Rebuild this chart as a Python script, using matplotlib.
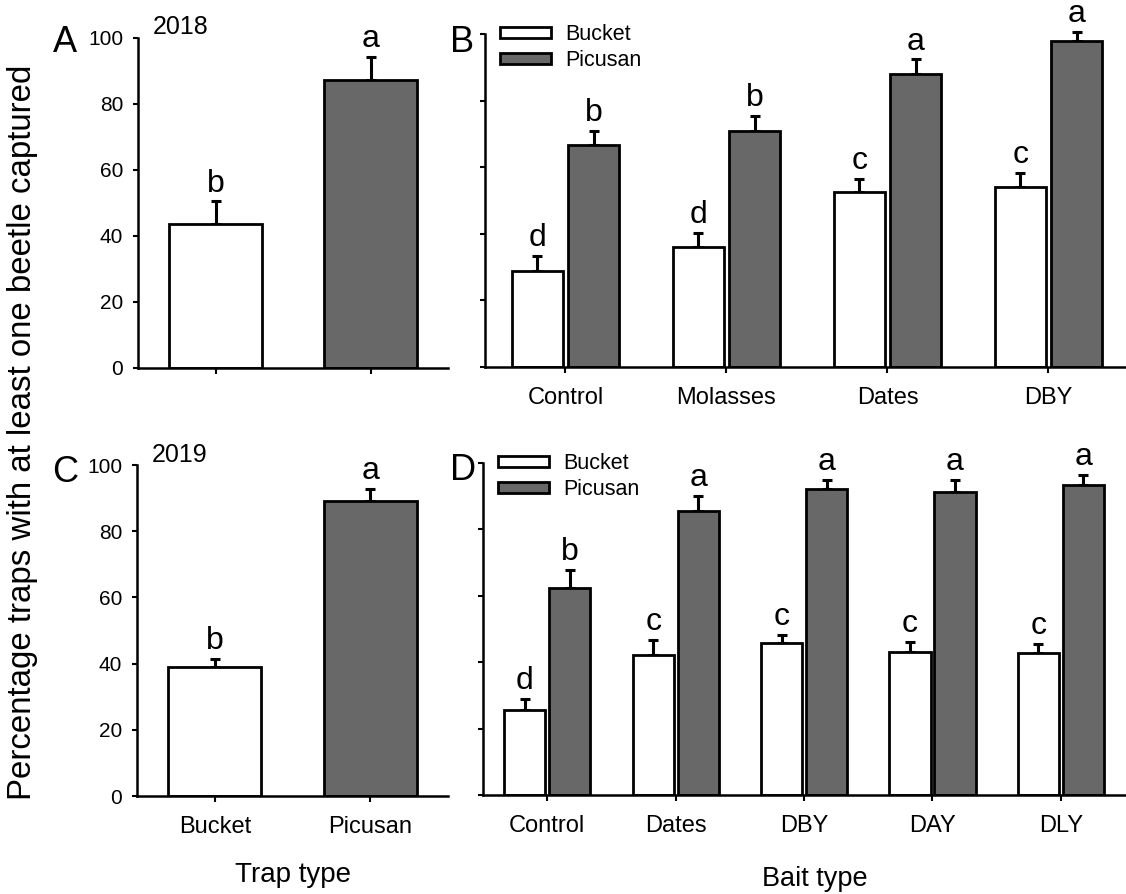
import matplotlib
matplotlib.use("Agg")
import matplotlib.pyplot as plt
import numpy as np

plt.rcParams['font.family'] = ['Liberation Sans', 'DejaVu Sans']

# trap type, 2018 and 2019
traps = ["Bucket", "Picusan"]
trap_2018 = [43.5, 87.2]
trap_2018_err = [7.0, 7.0]
trap_2018_letters = ["b", "a"]
trap_2019 = [39.0, 89.1]
trap_2019_err = [2.4, 3.6]
trap_2019_letters = ["b", "a"]

# bait type by trap, 2018
baits_2018 = ["Control", "Molasses", "Dates", "DBY"]
bucket_2018 = [28.8, 36.0, 52.4, 53.9]
bucket_2018_err = [4.5, 4.3, 4.2, 4.5]
bucket_2018_letters = ["d", "d", "c", "c"]
picusan_2018 = [66.7, 70.9, 87.9, 97.9]
picusan_2018_err = [4.2, 4.5, 4.5, 2.7]
picusan_2018_letters = ["b", "b", "a", "a"]

# bait type by trap, 2019
baits_2019 = ["Control", "Dates", "DBY", "DAY", "DLY"]
bucket_2019 = [25.6, 42.2, 45.8, 43.1, 42.8]
bucket_2019_err = [3.3, 4.5, 2.4, 3.0, 2.7]
bucket_2019_letters = ["d", "c", "c", "c", "c"]
picusan_2019 = [62.3, 85.5, 92.2, 91.3, 93.4]
picusan_2019_err = [5.5, 4.6, 2.7, 3.6, 3.0]
picusan_2019_letters = ["b", "a", "a", "a", "a"]

GREY = "#686868"
LW = 2.0


def style_axis(ax):
    ax.spines['top'].set_visible(False)
    ax.spines['right'].set_visible(False)
    ax.spines['left'].set_linewidth(1.8)
    ax.spines['bottom'].set_linewidth(1.8)
    ax.set_ylim(0, 100)
    ax.set_yticks([0, 20, 40, 60, 80, 100])
    ax.tick_params(axis='y', direction='out', length=3.8, width=1.5, pad=7, labelsize=15)
    ax.tick_params(axis='x', direction='out', length=4.5, width=1.5, pad=10, labelsize=17)


def draw_bars(ax, x, vals, errs, letters, color, width):
    bars = ax.bar(x, vals, width, color=color, edgecolor='black', linewidth=LW, zorder=2)
    ax.errorbar(x, vals, yerr=[np.zeros(len(vals)), errs], fmt='none', ecolor='black',
                elinewidth=2.2, capsize=3.6, capthick=2.2, zorder=1, clip_on=False)
    for xi, v, e, t in zip(x, vals, errs, letters):
        ax.annotate(t, (xi, v + e), xytext=(0, 7), textcoords='offset points',
                    ha='center', va='baseline', fontsize=23, annotation_clip=False)
    return bars


def trap_panel(ax, vals, errs, letters):
    x = np.arange(len(traps))
    draw_bars(ax, x, vals, errs, letters, ['white', GREY], 0.6)
    ax.set_xlim(-0.5, 1.5)
    ax.set_xticks(x)
    ax.set_xticklabels(traps)
    style_axis(ax)


def bait_panel(ax, baits, buck, buck_err, buck_let, pic, pic_err, pic_let):
    x = np.arange(len(baits))
    b1 = draw_bars(ax, x - 0.175, buck, buck_err, buck_let, 'white', 0.32)
    b2 = draw_bars(ax, x + 0.175, pic, pic_err, pic_let, GREY, 0.32)
    ax.set_xlim(-0.5, len(baits) - 0.5)
    ax.set_xticks(x)
    ax.set_xticklabels(baits)
    style_axis(ax)
    ax.set_yticklabels([])
    ax.legend([b1, b2], ["Bucket", "Picusan"], loc='upper left', bbox_to_anchor=(0.023, 1.03),
              frameon=False, fontsize=15.5, handlelength=2.4, handleheight=0.38,
              handletextpad=0.65, labelspacing=0.25, borderpad=0, borderaxespad=0)


fig = plt.figure(figsize=(11.26, 8.94), dpi=100)

axA = fig.add_axes([0.1226, 0.5884, 0.2753, 0.3691])
trap_panel(axA, trap_2018, trap_2018_err, trap_2018_letters)
axA.set_xticklabels([])

axB = fig.add_axes([0.4307, 0.5895, 0.5719, 0.3725])
bait_panel(axB, baits_2018, bucket_2018, bucket_2018_err, bucket_2018_letters,
           picusan_2018, picusan_2018_err, picusan_2018_letters)

axC = fig.add_axes([0.1217, 0.1096, 0.2762, 0.3702])
trap_panel(axC, trap_2019, trap_2019_err, trap_2019_letters)

axD = fig.add_axes([0.4290, 0.1107, 0.5702, 0.3714])
bait_panel(axD, baits_2019, bucket_2019, bucket_2019_err, bucket_2019_letters,
           picusan_2019, picusan_2019_err, picusan_2019_letters)

# panel letters and years
fig.text(0.047, 0.9418, "A", fontsize=26, ha='left', va='baseline')
fig.text(0.3996, 0.9418, "B", fontsize=26, ha='left', va='baseline')
fig.text(0.046, 0.4609, "C", fontsize=26, ha='left', va='baseline')
fig.text(0.3996, 0.4630, "D", fontsize=26, ha='left', va='baseline')
fig.text(0.1359, 0.962, "2018", fontsize=18, ha='left', va='baseline')
fig.text(0.1350, 0.4832, "2019", fontsize=18, ha='left', va='baseline')

fig.text(0.0204, 0.5168, "Percentage traps with at least one beetle captured",
         rotation=90, ha='center', va='center', fontsize=23.8)
fig.text(0.260, 0.0134, "Trap type", ha='center', va='baseline', fontsize=20)
fig.text(0.7238, 0.0089, "Bait type", ha='center', va='baseline', fontsize=19.5)

fig.savefig("out.png", dpi=100)
